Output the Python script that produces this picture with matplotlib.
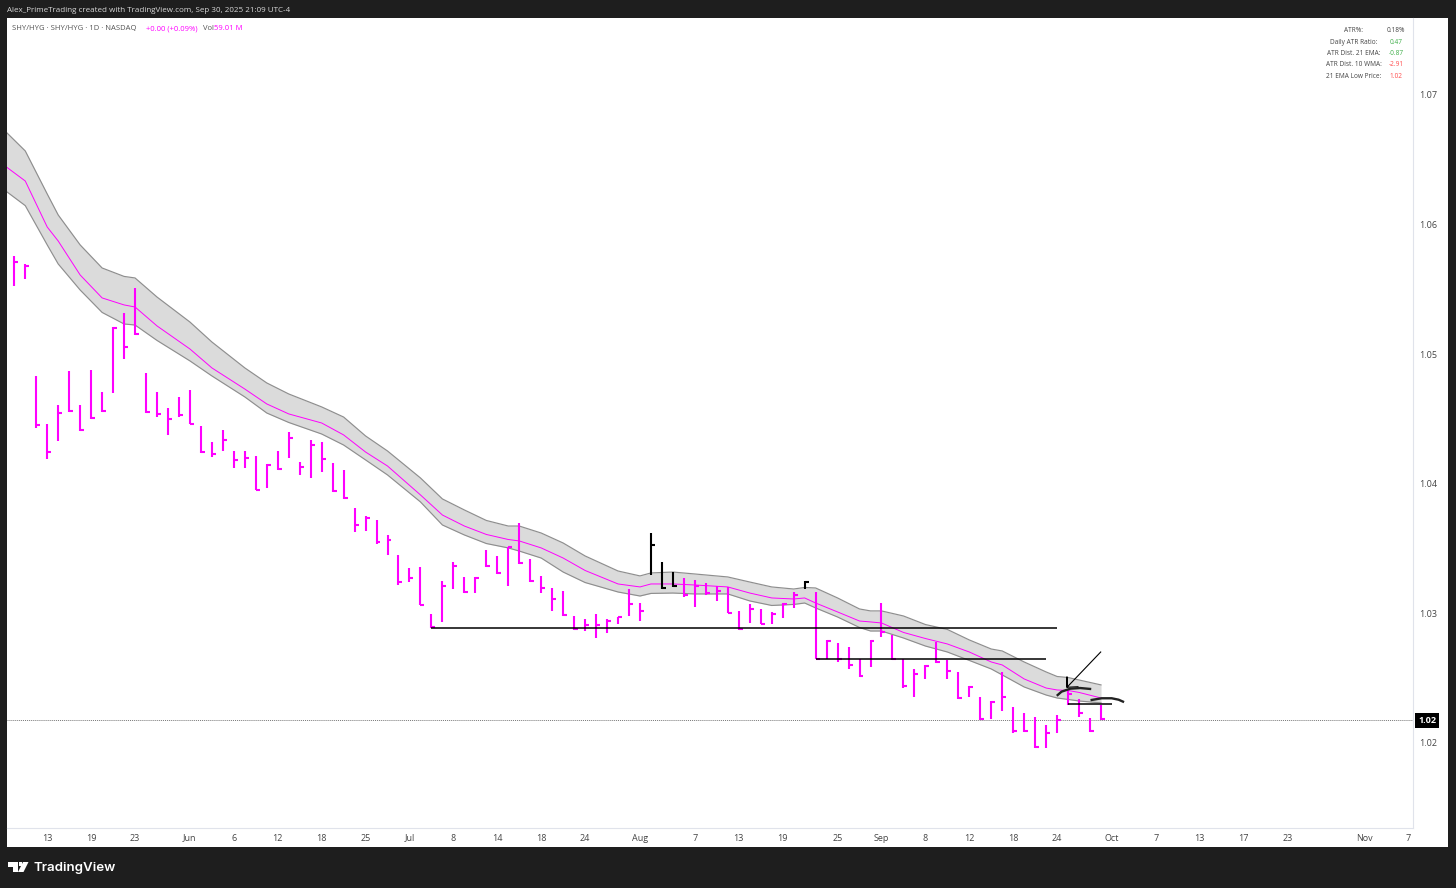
import matplotlib
matplotlib.use('Agg')
import matplotlib.pyplot as plt
from matplotlib.patches import Rectangle, Polygon

W, H = 1456, 888
plt.rcParams['font.family'] = ['Open Sans', 'DejaVu Sans']

# daily bars, first bar is index -1 (only its close tick shows at the left edge)
first_bar = -1
highs = [1.0595, 1.05758, 1.05696, 1.04832, 1.04459, 1.04608, 1.04870, 1.04606, 1.04876, 1.04708, 1.05208,
         1.05320, 1.05511, 1.04857, 1.04708, 1.04585, 1.04667, 1.04724, 1.04446, 1.04323, 1.04413,
         1.04253, 1.04253, 1.04215, 1.04153, 1.04255, 1.04397, 1.04171, 1.04336, 1.04320, 1.04160,
         1.04106, 1.03811, 1.03749, 1.03721, 1.03605, 1.03451, 1.03350, 1.03360, 1.02995, 1.03252,
         1.03397, 1.03279, 1.03279, 1.03487, 1.03445, 1.03515, 1.03695, 1.03420, 1.03289, 1.03194,
         1.03171, 1.02980, 1.02954, 1.02995, 1.02959, 1.02975, 1.03186, 1.03078, 1.03620, 1.03397,
         1.03319, 1.03271, 1.03258, 1.03232, 1.03214, 1.03206, 1.03016, 1.03073, 1.03032, 1.03011,
         1.03083, 1.03163, 1.03250, 1.03165, 1.02792, 1.02769, 1.02738, 1.02646, 1.02792, 1.03078,
         1.02833, 1.02646, 1.02569, 1.02602, 1.02782, 1.02640, 1.02546, 1.02438, 1.02353, 1.02324,
         1.02548, 1.02275, 1.02229, 1.02201, 1.02139, 1.02214, 1.02409, 1.02340, 1.02195, 1.02293]
lows = [1.0575, 1.05529, 1.05583, 1.04433, 1.04189, 1.04333, 1.04556, 1.04410, 1.04502, 1.04556, 1.04698,
        1.04963, 1.05148, 1.04549, 1.04518, 1.04377, 1.04518, 1.04459, 1.04240, 1.04204, 1.04255,
        1.04122, 1.04124, 1.03950, 1.03970, 1.04109, 1.04201, 1.04070, 1.04042, 1.04089, 1.03939,
        1.03883, 1.03630, 1.03638, 1.03538, 1.03453, 1.03219, 1.03242, 1.03063, 1.02887, 1.02936,
        1.03191, 1.03157, 1.03155, 1.03360, 1.03306, 1.03214, 1.03384, 1.03245, 1.03155, 1.03021,
        1.02982, 1.02872, 1.02867, 1.02808, 1.02851, 1.02918, 1.02980, 1.02944, 1.03299, 1.03191,
        1.03206, 1.03129, 1.03047, 1.03142, 1.03093, 1.03001, 1.02872, 1.02928, 1.02916, 1.02916,
        1.02965, 1.03042, 1.03191, 1.02646, 1.02646, 1.02625, 1.02571, 1.02512, 1.02584, 1.02820,
        1.02640, 1.02424, 1.02355, 1.02496, 1.02620, 1.02496, 1.02342, 1.02355, 1.02180, 1.02188,
        1.02249, 1.02075, 1.02087, 1.01964, 1.01964, 1.02079, 1.02296, 1.02203, 1.02083, 1.02180]
closes = [1.05889, 1.05714, 1.05683, 1.04454, 1.04243, 1.04549, 1.04559, 1.04415, 1.04510, 1.04564, 1.05205,
          1.05056, 1.05154, 1.04554, 1.04539, 1.04500, 1.04529, 1.04464, 1.04245, 1.04232, 1.04338,
          1.04181, 1.04201, 1.03954, 1.04147, 1.04117, 1.04356, 1.04130, 1.04299, 1.04191, 1.03944,
          1.03890, 1.03680, 1.03734, 1.03553, 1.03566, 1.03240, 1.03273, 1.03067, 1.02893, 1.03211,
          1.03366, 1.03165, 1.03273, 1.03368, 1.03312, 1.03510, 1.03391, 1.03250, 1.03194, 1.03111,
          1.02990, 1.02877, 1.02913, 1.02908, 1.02941, 1.02970, 1.03073, 1.03019, 1.03525, 1.03196,
          1.03211, 1.03142, 1.03211, 1.03155, 1.03175, 1.03005, 1.02877, 1.03032, 1.02921, 1.02995,
          1.03075, 1.03144, 1.03245, 1.02650, 1.02787, 1.02650, 1.02600, 1.02519, 1.02787, 1.02854,
          1.02648, 1.02438, 1.02532, 1.02596, 1.02627, 1.02558, 1.02347, 1.02432, 1.02185, 1.02314,
          1.02357, 1.02090, 1.02093, 1.01971, 1.02079, 1.02175, 1.02378, 1.02234, 1.02095, 1.02185]
black_bars = [58, 59, 60, 72]

# 21 EMA ribbon
ema_idx = [-1, 1, 3, 4, 6, 8, 10, 11, 13, 16, 18, 21, 23, 25, 28, 30, 32, 34, 37, 39, 41, 43, 45, 46, 48,
           50, 52, 55, 57, 58, 60, 62, 65, 67, 69, 71, 72, 73, 75, 77, 78, 79, 81, 83, 85, 87, 89, 90, 92,
           94, 95, 96, 97, 99]
ema_high = [1.06735, 1.06568, 1.06236, 1.06074, 1.05843, 1.05665, 1.05600, 1.05588, 1.05441, 1.05248, 1.05094,
            1.04894, 1.04778, 1.04693, 1.04593, 1.04515, 1.04369, 1.04253, 1.04045, 1.03883, 1.03798, 1.03717,
            1.03674, 1.03674, 1.03620, 1.03543, 1.03443, 1.03327, 1.03289, 1.03312, 1.03319, 1.03304, 1.03281,
            1.03242, 1.03204, 1.03188, 1.03200, 1.03196, 1.03119, 1.03034, 1.03019, 1.03019, 1.02980, 1.02914,
            1.02876, 1.02795, 1.02725, 1.02710, 1.02625, 1.02548, 1.02513, 1.02505, 1.02486, 1.02448]
ema_mid = [1.06462, 1.06336, 1.05981, 1.05873, 1.05611, 1.05434, 1.05380, 1.05364, 1.05218, 1.05040, 1.04894,
           1.04731, 1.04616, 1.04539, 1.04469, 1.04377, 1.04245, 1.04137, 1.03914, 1.03759, 1.03674, 1.03609,
           1.03570, 1.03559, 1.03505, 1.03427, 1.03331, 1.03227, 1.03204, 1.03227, 1.03227, 1.03219, 1.03204,
           1.03157, 1.03119, 1.03111, 1.03119, 1.03080, 1.03011, 1.02941, 1.02934, 1.02926, 1.02853, 1.02806,
           1.02764, 1.02702, 1.02625, 1.02602, 1.02494, 1.02424, 1.02409, 1.02405, 1.02390, 1.02347]
ema_low = [1.06273, 1.06146, 1.05843, 1.05696, 1.05495, 1.05322, 1.05233, 1.05225, 1.05106, 1.04948, 1.04832,
           1.04670, 1.04546, 1.04473, 1.04384, 1.04299, 1.04184, 1.04068, 1.03860, 1.03682, 1.03605, 1.03539,
           1.03505, 1.03481, 1.03427, 1.03319, 1.03238, 1.03165, 1.03134, 1.03154, 1.03157, 1.03150, 1.03150,
           1.03096, 1.03061, 1.03069, 1.03080, 1.03042, 1.02972, 1.02891, 1.02864, 1.02864, 1.02810, 1.02748,
           1.02702, 1.02637, 1.02571, 1.02525, 1.02432, 1.02370, 1.02347, 1.02336, 1.02324, 1.02309]

# hand drawn lines on the chart: (x0, x1, price)
levels = [(38, 95, 1.02887), (73, 94, 1.02646), (96, 100, 1.02303)]
arrow_x = [98.97, 95.9, 95.9, 95.9, 96.9]
arrow_y = [1.02702, 1.02430, 1.02509, 1.02430, 1.02434]
brush1_x = [95.05, 95.4, 96.2, 97.1, 98.0]
brush1_y = [1.02370, 1.02396, 1.02419, 1.02424, 1.02417]
brush2_x = [98.15, 99.06, 99.97, 100.6, 101.0]
brush2_y = [1.02332, 1.02345, 1.02345, 1.02334, 1.02319]
last_price = 1.02175

price_ticks = [1.02, 1.03, 1.04, 1.05, 1.06, 1.07]
date_pos = [3, 7, 11, 16, 20, 24, 28, 32, 36, 40, 44, 48, 52, 57, 62, 66, 70, 75, 79, 83, 87, 91, 95,
            100, 104, 108, 112, 116, 123, 127]
date_labels = ['13', '19', '23', 'Jun', '6', '12', '18', '25', 'Jul', '8', '14', '18', '24', 'Aug', '7', '13',
               '19', '25', 'Sep', '8', '12', '18', '24', 'Oct', '7', '13', '17', '23', 'Nov', '7']

info_labels = ['ATR%:', 'Daily ATR Ratio:', 'ATR Dist. 21 EMA:', 'ATR Dist. 10 WMA:', '21 EMA Low Price:']
info_values = ['0.18%', '0.47', '-0.87', '-2.91', '1.02']
info_colors = ['#444444', '#3fae49', '#3fae49', '#ff4d4d', '#ff4d4d']

MAGENTA = '#ff00ff'


def fx(px):
    return px / W


def fy(px):
    return 1 - px / H


def px_text(x, y, s, **kw):
    kw.setdefault('va', 'center')
    return fig.text(fx(x), fy(y), s, **kw)


fig = plt.figure(figsize=(W / 100, H / 100), dpi=100, facecolor='#1e1e1e')

# white chart panel behind the axes
fig.add_artist(Rectangle((fx(7), fy(847)), fx(1448 - 7), (847 - 18.5) / H, transform=fig.transFigure,
                         fc='white', ec='none', zorder=-5))

left, right, top, bottom = 7, 1413, 18.5, 828
ax = fig.add_axes([fx(left), fy(bottom), fx(right - left), (bottom - top) / H])
ax.patch.set_alpha(0)
ax.set_xlim(-0.665, 127.42)
ax.set_ylim(1.01344, 1.07590)

ax.fill_between(ema_idx, ema_low, ema_high, color='#dbdbdb', lw=0, zorder=1)
ax.plot(ema_idx, ema_high, color='#8e8e8e', lw=0.85, zorder=2)
ax.plot(ema_idx, ema_low, color='#8e8e8e', lw=0.85, zorder=2)
ax.plot(ema_idx, ema_mid, color=MAGENTA, lw=0.7, zorder=2)

ax.axhline(last_price, color='#777777', lw=0.7, ls=(0, (1, 1)), zorder=2)

# bars, only the close tick on the right, no open tick
for i, (hi, lo, c) in enumerate(zip(highs, lows, closes)):
    n = first_bar + i
    col = 'black' if n in black_bars else MAGENTA
    ax.vlines(n, lo, hi, color=col, lw=1.5, zorder=3, capstyle='butt')
    ax.hlines(c, n, n + 0.36, color=col, lw=1.5, zorder=3, capstyle='butt')

for x0, x1, price in levels:
    ax.plot([x0, x1], [price, price], color='black', lw=1.1, zorder=4, solid_capstyle='butt')
ax.plot(arrow_x, arrow_y, color='black', lw=0.8, zorder=4)
ax.plot(brush1_x, brush1_y, color='#222222', lw=1.7, zorder=4)
ax.plot(brush2_x, brush2_y, color='#222222', lw=1.7, zorder=4)

for s in ['top', 'left']:
    ax.spines[s].set_visible(False)
ax.spines['right'].set_color('#e0e3eb')
ax.spines['bottom'].set_color('#e0e3eb')
ax.spines['right'].set_linewidth(0.8)
ax.spines['bottom'].set_linewidth(0.8)

ax.yaxis.tick_right()
ax.set_yticks(price_ticks)
ax.set_yticklabels(['%.2f' % p for p in price_ticks])
ax.set_xticks(date_pos)
ax.set_xticklabels(date_labels)
ax.tick_params(axis='both', length=0, labelsize=6.5, labelcolor='#444444')
ax.tick_params(axis='x', pad=4)
ax.tick_params(axis='y', pad=4.5)

# current price tag
ax.annotate('1.02', xy=(1, last_price), xycoords=('axes fraction', 'data'), xytext=(14, 0),
            textcoords='offset pixels', ha='center', va='center', fontsize=6.5, fontweight='bold', color='white',
            bbox=dict(boxstyle='square,pad=0.32', fc='black', ec='none'), annotation_clip=False, zorder=6)

# header and footer
px_text(7, 10, 'Alex_PrimeTrading created with TradingView.com, Sep 30, 2025 21:09 UTC-4', color='#d8d8d8', fontsize=5.75)
px_text(12, 28.5, 'SHY/HYG · SHY/HYG · 1D · NASDAQ', color='#555555', fontsize=5.5)
px_text(146, 28.5, '+0.00 (+0.09%)', color=MAGENTA, fontsize=5.5)
px_text(203, 28.5, 'Vol', color='#555555', fontsize=5.5)
px_text(214, 28.5, '59.01 M', color=MAGENTA, fontsize=5.5)

for y, lab, val, col in zip([30.5, 42.3, 53.7, 65, 76.3], info_labels, info_values, info_colors):
    px_text(1354, y, lab, color='#444444', fontsize=4.7, ha='center')
    px_text(1396, y, val, color=col, fontsize=4.7, ha='center')

# logo
fig.add_artist(Polygon([(fx(8), fy(862)), (fx(17.5), fy(862)), (fx(17.5), fy(872)), (fx(12.5), fy(872)),
                        (fx(12.5), fy(866.5)), (fx(8), fy(866.5))], closed=True, transform=fig.transFigure,
                       fc='white', ec='none'))
fig.add_artist(Polygon([(fx(23), fy(862)), (fx(28.5), fy(862)), (fx(23.5), fy(872)), (fx(18), fy(872))], closed=True,
                       transform=fig.transFigure, fc='white', ec='none'))
fig.add_artist(Rectangle((fx(18.5), fy(866)), fx(3.5), 4 / H, transform=fig.transFigure, fc='white', ec='none'))
px_text(33, 867.5, 'TradingView', color='white', fontsize=9.6, fontweight='semibold', family=['Inter', 'DejaVu Sans'])

fig.savefig('out.png', dpi=100, facecolor=fig.get_facecolor())
